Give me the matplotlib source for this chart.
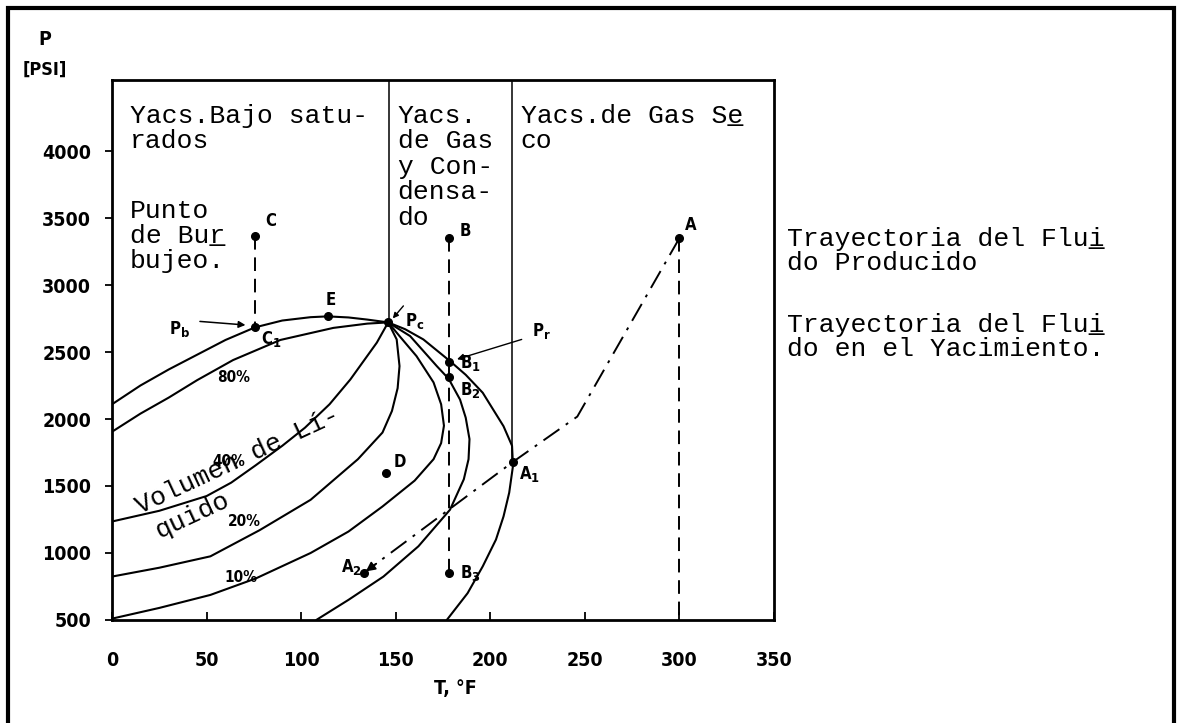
import matplotlib.pyplot as plt
from matplotlib.patches import Rectangle

burbuja_t = [0, 15, 30, 45, 60, 75.6, 90, 105, 114, 125, 135, 146]
burbuja_p = [2110, 2250, 2370, 2480, 2590, 2684, 2735, 2760, 2766, 2758, 2742, 2721]

c80_t = [0, 15, 30, 45, 64, 89, 117, 135, 146]
c80_p = [1905, 2040, 2160, 2290, 2440, 2590, 2680, 2712, 2721]

c40_t = [0, 25, 50, 63, 76, 90, 102, 115, 126, 140, 146]
c40_p = [1235, 1315, 1425, 1525, 1655, 1800, 1935, 2110, 2295, 2570, 2721]

c20_t = [0, 25, 52, 78, 105, 130, 143, 148, 151, 152, 150.5, 146]
c20_p = [824, 890, 975, 1170, 1397, 1700, 1899, 2060, 2230, 2395, 2594, 2721]

c10_t = [0, 25, 52, 76, 105, 125, 143, 160, 170, 174, 175.5, 174, 170, 161, 152, 146]
c10_p = [510, 590, 687, 810, 1000, 1160, 1347, 1540, 1700, 1820, 1950, 2110, 2273, 2469, 2619, 2721]

c5_t = [108, 125, 143.5, 162, 178.7, 186, 188.5, 189, 187, 184, 178, 171.7, 157.6, 146]
c5_p = [500, 650, 824, 1050, 1323, 1550, 1700, 1850, 2010, 2145, 2300, 2395, 2619, 2721]

rocio_t = [177, 188, 196, 203, 207, 210, 212, 211.5, 207, 196, 187, 178.7, 164.6, 155, 146]
rocio_p = [500, 700, 900, 1100, 1273, 1450, 1650, 1800, 1946, 2196, 2330, 2432, 2594, 2670, 2721]

# puntos marcados
pto_nombre = ['C', 'C1', 'E', 'Pc', 'B', 'B1', 'B2', 'B3', 'D', 'A', 'A1', 'A2']
pto_t = [75.6, 75.6, 114, 146, 178, 178, 178, 178, 145, 300, 212, 133]
pto_p = [3365, 2684, 2766, 2721, 3350, 2425, 2317, 851, 1599, 3350, 1680, 850]

# trayectoria del fluido producido
tray_t = [300, 246, 212, 133]
tray_p = [3350, 2018, 1680, 850]

# limites de las regiones
limite_t = [146.5, 211.5]
limite_p = [2721, 1680]

xticks = [0, 50, 100, 150, 200, 250, 300, 350]
yticks = [500, 1000, 1500, 2000, 2500, 3000, 3500, 4000]

maq = 'Liberation Mono'
neg = dict(family='DejaVu Sans', weight='bold', stretch='condensed')
plt.rcParams['mathtext.fontset'] = 'dejavusans'

fig = plt.figure(figsize=(11.82, 7.23), dpi=100)
ax = fig.add_axes([0.0948, 0.1425, 0.560, 0.7468])
ax.set_xlim(0, 350)
ax.set_ylim(500, 4530)

for t, p in [(burbuja_t, burbuja_p), (c80_t, c80_p), (c40_t, c40_p), (c20_t, c20_p),
             (c10_t, c10_p), (c5_t, c5_p), (rocio_t, rocio_p)]:
    ax.plot(t, p, color='black', lw=1.5, solid_capstyle='round', solid_joinstyle='round')

for t, p in zip(limite_t, limite_p):
    ax.plot([t, t], [p, 4530], color='black', lw=1.1)

# isotermas punteadas
ax.plot([pto_t[0], pto_t[1]], [pto_p[0], pto_p[1]], color='black', lw=1.4, dashes=(7, 4))
ax.plot([pto_t[4], pto_t[7]], [pto_p[4], pto_p[7]], color='black', lw=1.4, dashes=(7, 4))
ax.plot([pto_t[9], pto_t[9]], [pto_p[9], 500], color='black', lw=1.4, dashes=(7, 4))

ax.plot(tray_t, tray_p, color='black', lw=1.4, dashes=(10, 4, 1.5, 4))
ax.annotate('', xy=(tray_t[-1], tray_p[-1]),
            xytext=(tray_t[-1] + 0.1 * (tray_t[-2] - tray_t[-1]), tray_p[-1] + 0.1 * (tray_p[-2] - tray_p[-1])),
            arrowprops=dict(arrowstyle='-|>', color='black', lw=1.2, mutation_scale=14))

ax.plot(pto_t, pto_p, 'o', color='black', ms=5.5, ls='none')

# etiquetas de puntos
etiq = {'C': (81, 3480, 'C'), 'E': (113, 2890, 'E'), 'Pc': (155, 2735, r'P$_\mathbf{c}$'),
        'B': (184, 3400, 'B'), 'B1': (184, 2420, r'B$_\mathbf{1}$'), 'Pr': (222, 2655, r'P$_\mathbf{r}$'),
        'B2': (184, 2215, r'B$_\mathbf{2}$'), 'A': (303, 3445, 'A'), 'A1': (215, 1590, r'A$_\mathbf{1}$'),
        'D': (149, 1680, 'D'), 'A2': (121, 895, r'A$_\mathbf{2}$'), 'B3': (184, 850, r'B$_\mathbf{3}$'),
        'Pb': (30, 2670, r'P$_\mathbf{b}$'), 'C1': (79, 2595, r'C$_\mathbf{1}$')}
for k, (x, y, s) in etiq.items():
    ax.text(x, y, s, fontsize=12, va='center', ha='left', **neg)

for s, x, y in [('80%', 64, 2310), ('40%', 62, 1682), ('20%', 70, 1233), ('10%', 68, 814)]:
    ax.text(x, y, s, fontsize=11, va='center', ha='center', **neg)

# flechas de Pb, Pc, Pr
ax.annotate('', xy=(72, 2700), xytext=(45, 2730),
            arrowprops=dict(arrowstyle='-|>', color='black', lw=1.1, mutation_scale=10))
ax.annotate('', xy=(147.5, 2735), xytext=(155, 2860),
            arrowprops=dict(arrowstyle='-|>', color='black', lw=1.0, mutation_scale=8))
ax.annotate('', xy=(181, 2440), xytext=(218, 2600),
            arrowprops=dict(arrowstyle='-|>', color='black', lw=1.0, mutation_scale=10))


def renglones(x, p0, lineas, paso=187, **kw):
    for i, s in enumerate(lineas):
        ax.text(x, p0 - i * paso, s, family=maq, fontsize=19, va='baseline', **kw)


# textos de regiones
renglones(9.5, 4210, ['Yacs.Bajo satu-', 'rados'])
renglones(9.5, 3500, ['Punto', 'de Bur', 'bujeo.'])
renglones(9.5, 3313, ['     _'])
renglones(151, 4210, ['Yacs.', 'de Gas', 'y Con-', 'densa-', 'do'], paso=190)
renglones(216, 4210, ['Yacs.de Gas Se', 'co'])
renglones(216, 4210, ['             _'])
ax.text(15, 1290, 'Volumen de Lí-', family=maq, fontsize=19, rotation=25,
        rotation_mode='anchor', va='baseline')
ax.text(25, 1105, 'quido', family=maq, fontsize=19, rotation=25,
        rotation_mode='anchor', va='baseline')

for y, s in [(0.6598, 'Trayectoria del Flui'), (0.6266, 'do Producido'),
             (0.5408, 'Trayectoria del Flui'), (0.5076, 'do en el Yacimiento.')]:
    fig.text(0.666, y, s, family=maq, fontsize=19, va='baseline')
for y in [0.6598, 0.5408]:
    fig.text(0.666, y, '                   _', family=maq, fontsize=19, va='baseline')

ax.set_xticks(xticks)
ax.set_yticks(yticks)
ax.set_xticklabels([str(v) for v in xticks], fontsize=14, **neg)
ax.set_yticklabels([str(v) for v in yticks], fontsize=14, **neg)
ax.tick_params(axis='x', direction='in', length=6, width=1.3, pad=22)
ax.tick_params(axis='y', direction='out', length=5, width=1.3, pad=10)
for sp in ax.spines.values():
    sp.set_linewidth(2)

fig.text(0.038, 0.945, 'P', fontsize=14, ha='center', va='center', **neg)
fig.text(0.038, 0.903, '[PSI]', fontsize=13, ha='center', va='center', **neg)
fig.text(0.385, 0.048, 'T, °F', fontsize=14, ha='center', va='center', **neg)

fig.add_artist(Rectangle((8 / 1182, -0.05), 1166 / 1182, 1.05 - 8 / 723, transform=fig.transFigure,
                         fill=False, edgecolor='black', lw=3))

fig.savefig('out.png', dpi=100)
